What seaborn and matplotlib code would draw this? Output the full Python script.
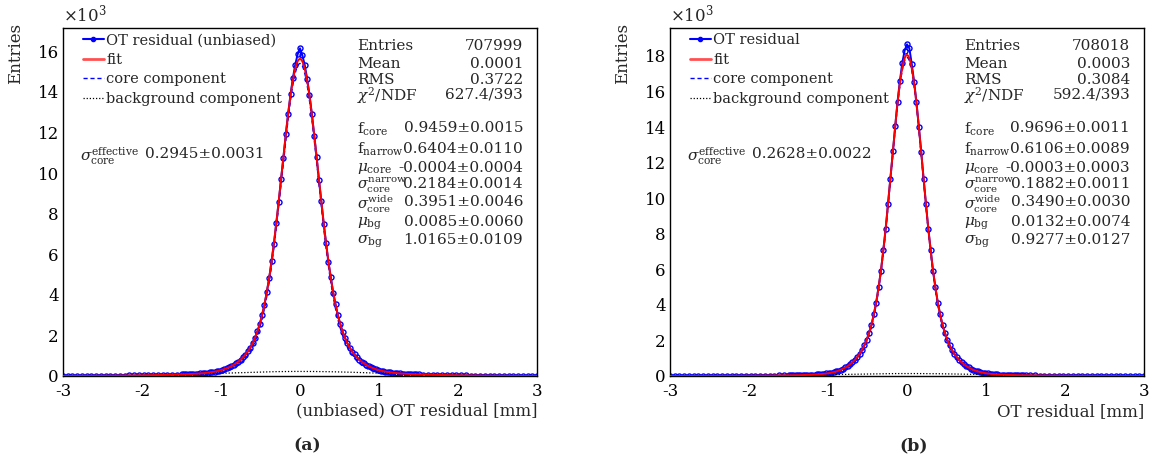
import numpy as np
import pandas as pd
import matplotlib
matplotlib.use("Agg")
import matplotlib.pyplot as plt
from matplotlib.lines import Line2D
from matplotlib.ticker import MultipleLocator, FuncFormatter
import seaborn as sns

# ---------------------------------------------------------------- data
# residual histogram: 400 bins over [-3, 3] mm, counts shown at bin centres
x_range = (-3.0, 3.0)
n_bins = 400
x_centres = np.concatenate([np.linspace(-3.0, -1.56, 25),
                            np.linspace(-1.5, 1.5, 101),
                            np.linspace(1.56, 3.0, 25)])

counts_a = [4, 3, 5, 5, 6, 8, 8, 10, 11, 12, 15, 16, 19, 21, 25, 27, 31, 34, 39, 43, 47, 53, 57, 64, 70,
            80, 82, 89, 93, 97, 106, 111, 116, 129, 136, 151, 160, 179, 193, 219, 238, 270, 297, 340, 376,
            431, 480, 553, 618, 714, 800, 928, 1046, 1221, 1384, 1625, 1861, 2196, 2540, 3015, 3502, 4150,
            4818, 5665, 6518, 7550, 8555, 9705, 10760, 11910, 12930, 13880, 14680, 15350, 15850,
            16150,
            15800, 15330, 14660, 13860, 12920, 11850, 10815, 9650, 8600, 7500, 6560, 5620, 4855, 4112, 3532,
            2983, 2566, 2172, 1880, 1603, 1400, 1203, 1060, 915, 812, 703, 627, 545, 487, 425, 382, 333, 302,
            265, 242, 214, 197, 175, 164, 147, 139, 125, 119, 109, 105, 96, 93, 86, 84, 77,
            72, 63, 58, 51, 48, 42, 39, 33, 31, 26, 24, 22, 18, 17, 14, 12, 11, 9, 8, 7, 6, 5, 5, 4, 3]

counts_b = [1, 2, 1, 2, 2, 3, 2, 4, 3, 5, 5, 6, 8, 8, 10, 11, 13, 14, 17, 18, 22, 24, 28, 30, 35,
            39, 41, 42, 46, 49, 50, 56, 57, 63, 66, 75, 80, 91, 97, 112, 122, 143, 160, 190, 214, 257, 292,
            351, 402, 484, 556, 665, 764, 912, 1050, 1255, 1448, 1735, 2020, 2436, 2868, 3475, 4120, 4990,
            5900, 7075, 8260, 9700, 11080, 12640, 14080, 15420, 16600, 17600, 18300,
            18650,
            18420, 17560, 16560, 15390, 13990, 12620, 11080, 9700, 8265, 7060, 5905, 4982, 4122, 3470, 2870,
            2430, 2022, 1732, 1450, 1250, 1052, 910, 765, 663, 556, 482, 403, 350, 293, 255, 215, 189, 160,
            143, 122, 111, 97, 90, 80, 74, 66, 63, 57, 55, 50, 49, 44, 44, 39, 38,
            34, 30, 27, 24, 21, 19, 16, 15, 12, 11, 9, 8, 7, 6, 5, 4, 4, 3, 2, 2, 2, 1, 1, 1, 1]

# summary statistics
entries = [707999, 708018]
means = [0.0001, 0.0003]
rms = [0.3722, 0.3084]
chi2 = [627.4, 592.4]
ndf = [393, 393]

# fit parameters (value, error): f_core, f_narrow, mu_core, sigma_narrow, sigma_wide, mu_bg, sigma_bg
fit_a = [(0.9459, 0.0015), (0.6404, 0.0110), (-0.0004, 0.0004), (0.2184, 0.0014),
         (0.3951, 0.0046), (0.0085, 0.0060), (1.0165, 0.0109)]
fit_b = [(0.9696, 0.0011), (0.6106, 0.0089), (-0.0003, 0.0003), (0.1882, 0.0011),
         (0.3490, 0.0030), (0.0132, 0.0074), (0.9277, 0.0127)]
sigma_eff = [(0.2945, 0.0031), (0.2628, 0.0022)]

legend_data = ["OT residual (unbiased)", "OT residual"]
x_titles = ["(unbiased) OT residual [mm]", "OT residual [mm]"]
panel_tags = ["(a)", "(b)"]
y_max = [17150, 19570]

# ---------------------------------------------------------------- style
sns.set_style("white")
plt.rcParams["font.family"] = ["DejaVu Serif"]
plt.rcParams["mathtext.fontset"] = "dejavuserif"
plt.rcParams["axes.unicode_minus"] = False

BLUE = "#0000ff"
RED = "#ff0000"


def gauss(x, mu, s):
    return np.exp(-0.5 * ((x - mu) / s) ** 2) / (s * np.sqrt(2 * np.pi))


def components(x, pars, n):
    (fc, _), (fn, _), (mc, _), (sn, _), (sw, _), (mb, _), (sb, _) = pars
    scale = n * (x_range[1] - x_range[0]) / n_bins
    core = scale * fc * (fn * gauss(x, mc, sn) + (1 - fn) * gauss(x, mc, sw))
    bg = scale * (1 - fc) * gauss(x, mb, sb)
    return core, bg


fig = plt.figure(figsize=(11.56, 4.61), dpi=100)
ax_pos = [[63 / 1156, 1 - 376 / 461, 474 / 1156, 348 / 461],
          [670 / 1156, 1 - 376 / 461, 474 / 1156, 348 / 461]]
tag_x = [307 / 1156, 914 / 1156]

par_labels = [r"f$_{\rm core}$", r"f$_{\rm narrow}$", r"$\mu_{\rm core}$",
              r"$\sigma_{\rm core}^{\rm narrow}$", r"$\sigma_{\rm core}^{\rm wide}$",
              r"$\mu_{\rm bg}$", r"$\sigma_{\rm bg}$"]
par_rows = [0.716, 0.658, 0.603, 0.556, 0.503, 0.446, 0.394]
stat_rows = [0.954, 0.902, 0.856, 0.813]

for i, (counts, pars) in enumerate([(counts_a, fit_a), (counts_b, fit_b)]):
    ax = fig.add_axes(ax_pos[i])
    df = pd.DataFrame({"x": x_centres, "entries": counts})

    xf = np.linspace(x_range[0], x_range[1], 1201)
    core, bg = components(xf, pars, entries[i])
    fit_df = pd.DataFrame({"x": xf, "fit": core + bg, "core": core, "bg": bg})

    sns.lineplot(data=df, x="x", y="entries", ax=ax, color=BLUE, lw=1.4,
                 marker="o", markersize=3.6, markerfacecolor="none",
                 markeredgecolor=BLUE, markeredgewidth=1.0,
                 sort=False, estimator=None, zorder=2)
    sns.lineplot(data=fit_df, x="x", y="bg", ax=ax, color="black", lw=0.9,
                 linestyle=(0, (1, 1.5)), zorder=3)
    sns.lineplot(data=fit_df, x="x", y="core", ax=ax, color=BLUE, lw=1.0,
                 linestyle=(0, (3, 2)), zorder=3)
    sns.lineplot(data=fit_df, x="x", y="fit", ax=ax, color=RED, lw=1.4, zorder=4)

    ax.set_xlim(*x_range)
    ax.set_ylim(0, y_max[i])
    ax.xaxis.set_major_locator(MultipleLocator(1))
    ax.xaxis.set_minor_locator(MultipleLocator(0.2))
    ax.yaxis.set_major_locator(MultipleLocator(2000))
    ax.yaxis.set_minor_locator(MultipleLocator(500))
    ax.yaxis.set_major_formatter(FuncFormatter(lambda v, p: f"{v / 1000:g}"))
    ax.xaxis.set_major_formatter(FuncFormatter(lambda v, p: f"{v:g}"))
    ax.tick_params(axis="both", which="both", direction="in", top=False, right=False,
                   labelsize=12, colors="black")
    ax.tick_params(axis="y", which="major", length=16, width=1.0, pad=3)
    ax.tick_params(axis="y", which="minor", length=8, width=1.0)
    ax.tick_params(axis="x", which="major", length=10, width=1.0, pad=5)
    ax.tick_params(axis="x", which="minor", length=5, width=1.0)
    for sp in ax.spines.values():
        sp.set_color("black")
        sp.set_linewidth(1.0)

    ax.set_xlabel(x_titles[i], loc="right", fontsize=12, labelpad=2)
    ax.set_ylabel("Entries", loc="top", fontsize=12)
    ax.yaxis.set_label_coords(-0.083, 1.014)
    ax.text(0.0, 1.008, r"$\times$10$^{3}$", transform=ax.transAxes,
            ha="left", va="bottom", fontsize=12)

    # legend
    handles = [Line2D([], [], color=BLUE, lw=1.5, marker="o", markersize=3),
               Line2D([], [], color="#ff5050", lw=2.0),
               Line2D([], [], color=BLUE, lw=1.0, linestyle=(0, (3, 2))),
               Line2D([], [], color="black", lw=0.9, linestyle=(0, (1, 1.5)))]
    ax.legend(handles, [legend_data[i], "fit", "core component", "background component"],
              loc="upper left", bbox_to_anchor=(0.042, 0.985), frameon=False,
              fontsize=10.5, handlelength=1.45, handletextpad=0.15,
              labelspacing=0.38, borderpad=0, borderaxespad=0)

    # effective core width
    ax.text(0.036, 0.641, r"$\sigma_{\rm core}^{\rm effective}$", transform=ax.transAxes,
            ha="left", va="center_baseline", fontsize=11)
    ax.text(0.172, 0.641, f"{sigma_eff[i][0]:.4f}\u00b1{sigma_eff[i][1]:.4f}",
            transform=ax.transAxes, ha="left", va="center_baseline", fontsize=11)

    # statistics box
    stat_labels = ["Entries", "Mean", "RMS", r"$\chi^{2}$/NDF"]
    stat_vals = [f"{entries[i]}", f"{means[i]:.4f}", f"{rms[i]:.4f}", f"{chi2[i]:.1f}/{ndf[i]}"]
    for lab, val, yy in zip(stat_labels, stat_vals, stat_rows):
        ax.text(0.62, yy, lab, transform=ax.transAxes, ha="left", va="center_baseline", fontsize=11)
        ax.text(0.9705, yy, val, transform=ax.transAxes, ha="right", va="center_baseline", fontsize=11)
    for lab, (v, e), yy in zip(par_labels, pars, par_rows):
        ax.text(0.62, yy, lab, transform=ax.transAxes, ha="left", va="center_baseline",
                fontsize=10.5 if "sigma_{\\rm core}" in lab else 11)
        ax.text(0.9705, yy, f"{v:.4f}\u00b1{e:.4f}", transform=ax.transAxes,
                ha="right", va="center_baseline", fontsize=11)

    fig.text(tag_x[i], 1 - 446 / 461, panel_tags[i], ha="center", va="center",
             fontsize=12.5, fontweight="bold")

fig.savefig("out.png", dpi=100)
